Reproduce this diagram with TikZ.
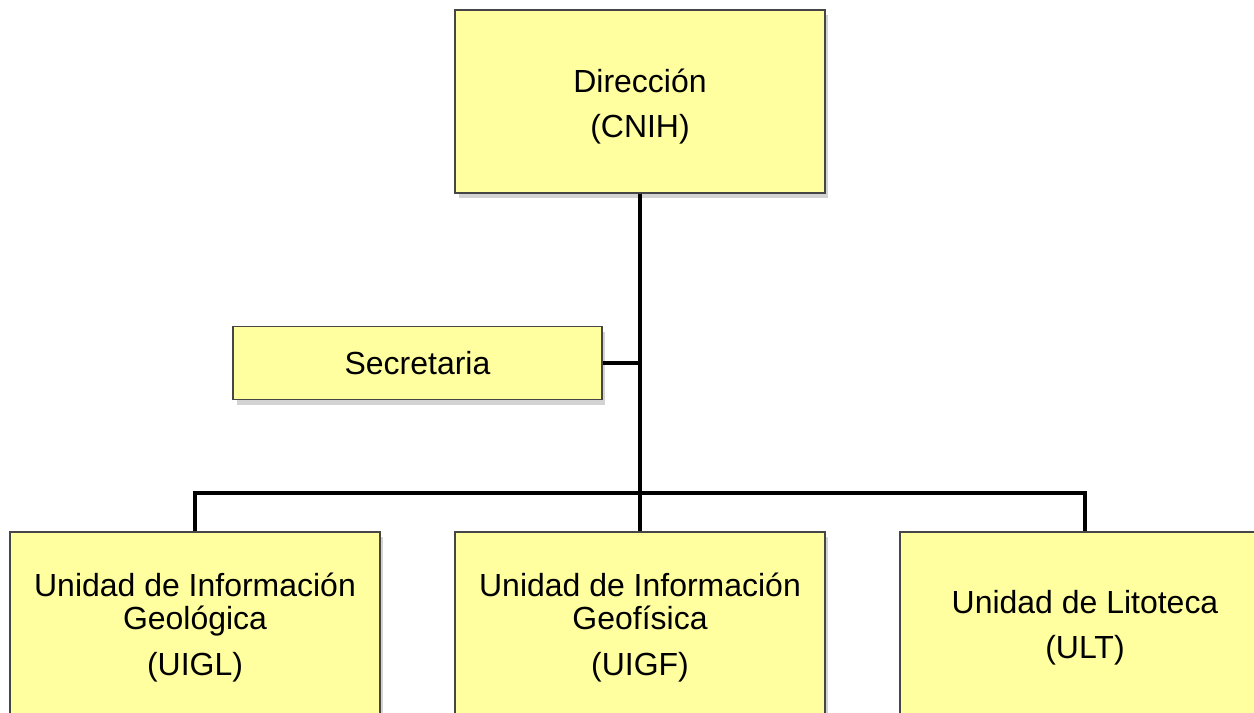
\documentclass[tikz,border=0pt]{standalone}
\usepackage{fontspec}
\setmainfont{Liberation Sans}
\usepackage{xcolor}
\usepackage{tikz}
\usetikzlibrary{shadows}

\definecolor{boxfill}{RGB}{255,255,160}
\definecolor{boxline}{RGB}{70,70,70}

\begin{document}
\begin{tikzpicture}[x=0.02cm,y=-0.02cm]
	\clip (0,0) rectangle (1254,713);
	\tikzstyle{every node}=[draw=boxline,line width=1.1pt,fill=boxfill,align=center,
		drop shadow={shadow xshift=2pt,shadow yshift=-3pt,opacity=0.35},
		font=\fontsize{18.2pt}{18.8pt}\selectfont];
	\tikzstyle{bigbox}=[minimum width=7.4cm,minimum height=3.66cm];
	\tikzstyle{lowbox}=[minimum width=7.4cm,minimum height=3.82cm];
	\tikzstyle{link}=[line width=2.8pt,black];
	\node[bigbox,text height=45pt] (dir) at (640,101.5) {Dirección\\[7pt](CNIH)};
	\node[minimum width=7.38cm,minimum height=1.46cm] (sec) at (417.5,363) {Secretaria};
	\node[lowbox] (uigl) at (195,627.5) {Unidad de Información\\Geológica\\[7pt](UIGL)};
	\node[lowbox] (uigf) at (640,627.5) {Unidad de Información\\Geofísica\\[7pt](UIGF)};
	\node[lowbox] (ult) at (1085,627.5) {Unidad de Litoteca\\[7pt](ULT)};
	\coordinate (j) at (640,493);
	\draw[link] (dir) -- (j);
	\draw[link] (sec.east) -- (sec.east -| dir.south);
	\draw[link] (uigl.north) |- (j) -| (ult.north);
	\draw[link] (j) -- (uigf);
\end{tikzpicture}
\end{document}
